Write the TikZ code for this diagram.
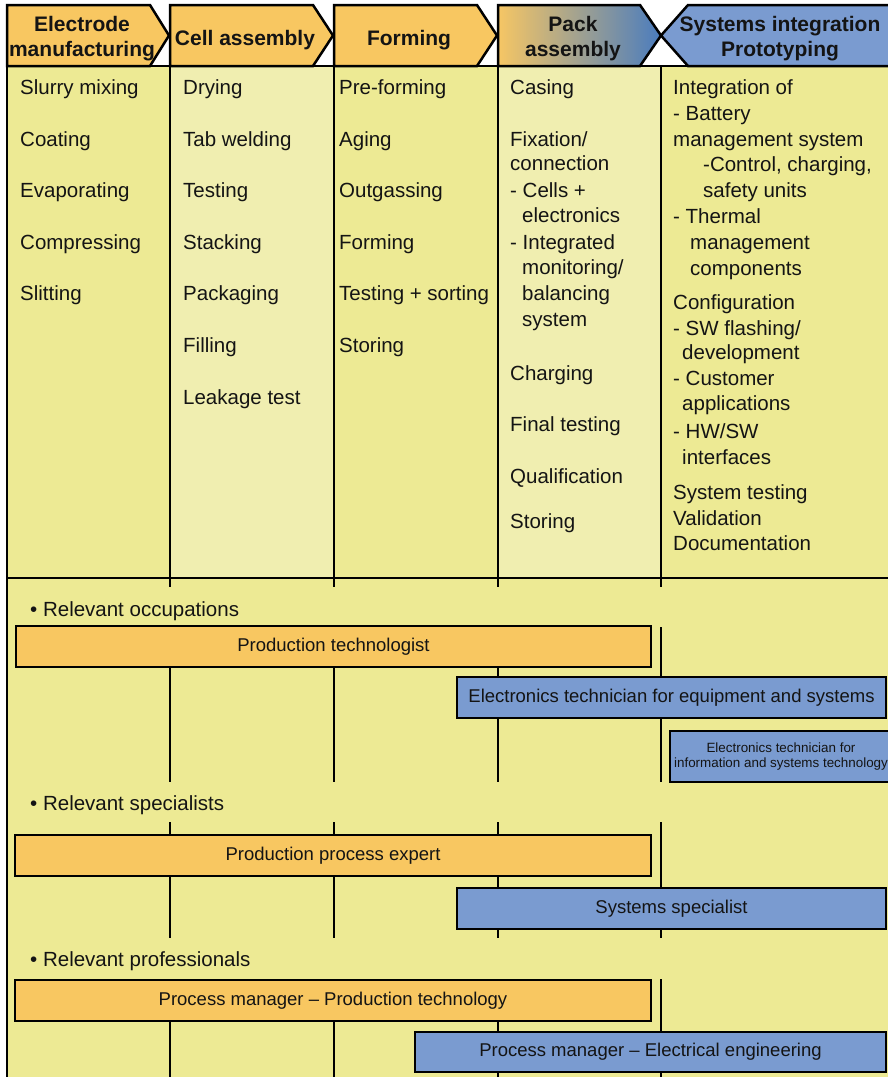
\documentclass[tikz,border=0pt]{standalone}
\usepackage{fontspec}
\setmainfont{Liberation Sans}
\definecolor{bodyyel}{RGB}{237,234,148}
\definecolor{paleyel}{RGB}{240,238,176}
\definecolor{hdrorange}{RGB}{248,199,97}
\definecolor{hdrblue}{RGB}{122,155,208}
\definecolor{packL}{RGB}{246,198,100}
\definecolor{packR}{RGB}{74,124,190}
\definecolor{ink}{RGB}{20,20,20}
\begin{document}
\begin{tikzpicture}[x=1pt,y=-1pt,
  rule/.style={line width=2.6pt, draw=black},
  chev/.style={line width=2.5pt, draw=black, line join=miter},
  hdr/.style={font=\fontsize{21}{25}\selectfont\bfseries, anchor=base, inner sep=0, text=ink},
  item/.style={font=\fontsize{20.5}{26}\selectfont, anchor=base west, inner sep=0, yshift=-7.3pt, text=ink},
  bar/.style={draw=black, line width=2.6pt, inner sep=0, text=ink, font=\fontsize{18.5}{22}\selectfont},
  orangebar/.style={bar, fill=hdrorange},
  bluebar/.style={bar, fill=hdrblue}]
\useasboundingbox (0,0) rectangle (888,1077);
\fill[white] (0,0) rectangle (888,1077);

% column backgrounds
\fill[bodyyel] (7,66) rectangle (170,578);
\fill[paleyel] (170,66) rectangle (334,578);
\fill[bodyyel] (334,66) rectangle (498,578);
\fill[paleyel] (498,66) rectangle (661,578);
\fill[bodyyel] (661,66) rectangle (895,578);
\fill[bodyyel] (7,578) rectangle (895,1082);

% frame and column rules
\draw[rule] (7,66) -- (895,66);
\draw[rule] (7,578) -- (895,578);
\draw[rule] (7,66) -- (7,1082);
\foreach \cx in {170,334,498,661}{
  \draw[rule] (\cx,66) -- (\cx,587);
  \draw[rule] (\cx,627) -- (\cx,782);
  \draw[rule] (\cx,822) -- (\cx,938);
  \draw[rule] (\cx,979) -- (\cx,1082);
}

% process chevrons
\filldraw[chev, fill=hdrorange] (7,5) -- (150,5) -- (169,35.5) -- (150,66) -- (7,66) -- cycle;
\filldraw[chev, fill=hdrorange] (170,5) -- (313,5) -- (333,35.5) -- (313,66) -- (170,66) -- cycle;
\filldraw[chev, fill=hdrorange] (334,5) -- (477,5) -- (497,35.5) -- (477,66) -- (334,66) -- cycle;
\draw[chev, left color=packL, right color=packR] (498,5) -- (640,5) -- (661,35.5) -- (640,66) -- (498,66) -- cycle;
\filldraw[chev, fill=hdrblue] (900,5) -- (688,5) -- (661,35.5) -- (688,66) -- (900,66) -- cycle;

\node[hdr] (h1a) at (82,31) {Electrode};
\node[hdr] (h1b) at (82,56) {manufacturing};
\node[hdr] (h2) at (245,45) {Cell assembly};
\node[hdr] (h3) at (409,45) {Forming};
\node[hdr] (h4a) at (573,31) {Pack};
\node[hdr] (h4b) at (573,56) {assembly};
\node[hdr] (h5a) at (780,31) {Systems integration};
\node[hdr] (h5b) at (780,56) {Prototyping};

% electrode manufacturing steps
\node[item] (a1) at (20,87.5) {Slurry mixing};
\node[item] (a2) at (20,139.5) {Coating};
\node[item] (a3) at (20,190.5) {Evaporating};
\node[item] (a4) at (20,242) {Compressing};
\node[item] (a5) at (20,293.5) {Slitting};

% cell assembly steps
\node[item] (b1) at (183,87.5) {Drying};
\node[item] (b2) at (183,139.5) {Tab welding};
\node[item] (b3) at (183,190.5) {Testing};
\node[item] (b4) at (183,242) {Stacking};
\node[item] (b5) at (183,293.5) {Packaging};
\node[item] (b6) at (183,345.5) {Filling};
\node[item] (b7) at (183,397) {Leakage test};

% forming steps
\node[item] (c1) at (339,87.5) {Pre-forming};
\node[item] (c2) at (339,139.5) {Aging};
\node[item] (c3) at (339,190.5) {Outgassing};
\node[item] (c4) at (339,242) {Forming};
\node[item] (c5) at (339,293.5) {Testing + sorting};
\node[item] (c6) at (339,345.5) {Storing};

% pack assembly steps
\node[item] (d1) at (510,87.5) {Casing};
\node[item] (d2) at (510,139) {Fixation/};
\node[item] (d3) at (510,163.5) {connection};
\node[item] (d4) at (510,190) {- Cells +};
\node[item] (d5) at (522,215.5) {electronics};
\node[item] (d6) at (510,242) {- Integrated};
\node[item] (d7) at (522,267.5) {monitoring/};
\node[item] (d8) at (522,293.5) {balancing};
\node[item] (d9) at (522,319.5) {system};
\node[item] (d10) at (510,373.5) {Charging};
\node[item] (d11) at (510,424.5) {Final testing};
\node[item] (d12) at (510,476) {Qualification};
\node[item] (d13) at (510,521.5) {Storing};

% systems integration tasks
\node[item] (e1) at (673,87.5) {Integration of};
\node[item] (e2) at (673,113) {- Battery};
\node[item] (e3) at (673,139) {management system};
\node[item] (e4) at (703,164) {-Control, charging,};
\node[item] (e5) at (703,190) {safety units};
\node[item] (e6) at (673,216.5) {- Thermal};
\node[item] (e7) at (690,242.5) {management};
\node[item] (e8) at (690,268) {components};
\node[item] (e9) at (673,302.5) {Configuration};
\node[item] (e10) at (673,328.5) {- SW flashing/};
\node[item] (e11) at (682,352.5) {development};
\node[item] (e12) at (673,378) {- Customer};
\node[item] (e13) at (682,403.5) {applications};
\node[item] (e14) at (673,431) {- HW/SW};
\node[item] (e15) at (682,457) {interfaces};
\node[item] (e16) at (673,492.5) {System testing};
\node[item] (e17) at (673,518) {Validation};
\node[item] (e18) at (673,543.5) {Documentation};

% occupations
\node[item] (occ) at (30,609) {• Relevant occupations};
\node[orangebar, minimum width=635, minimum height=41] (ptech) at (333.5,646.5) {Production technologist};
\node[bluebar, minimum width=429, minimum height=41] (etech) at (671.5,697.5) {Electronics technician for equipment and systems};
\node[bluebar, minimum width=222, minimum height=51, align=center, font=\fontsize{13.4}{15}\selectfont] (itech) at (781,756.5) {Electronics technician for\\information and systems technology};

% specialists
\node[item] (spec) at (30,803) {• Relevant specialists};
\node[orangebar, minimum width=636, minimum height=41] (ppe) at (333,855.5) {Production process expert};
\node[bluebar, minimum width=429, minimum height=41] (sys) at (671.5,908.5) {Systems specialist};

% professionals
\node[item] (prof) at (30,959) {• Relevant professionals};
\node[orangebar, minimum width=636, minimum height=41] (pmp) at (333,1000.5) {Process manager – Production technology};
\node[bluebar, minimum width=471, minimum height=40] (pme) at (650.5,1052) {Process manager – Electrical engineering};
\end{tikzpicture}
\end{document}
